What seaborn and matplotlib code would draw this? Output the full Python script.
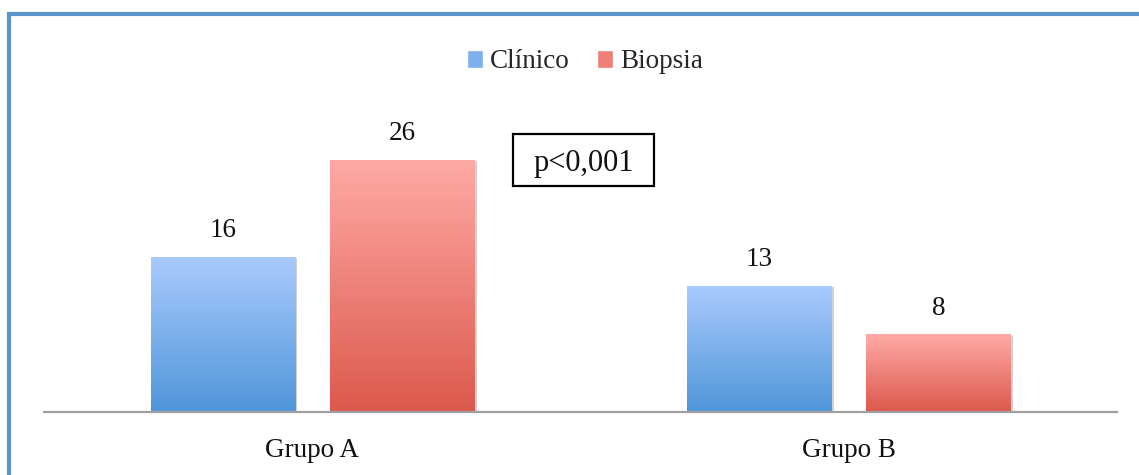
import numpy as np
import pandas as pd
import matplotlib
matplotlib.use("Agg")
import matplotlib.pyplot as plt
import matplotlib.patheffects as pe
from matplotlib.colors import LinearSegmentedColormap
from matplotlib.lines import Line2D
from matplotlib.patches import Rectangle
import seaborn as sns

# ---- data ----
grupos = ["Grupo A", "Grupo B"]
series = ["Clínico", "Biopsia"]
clinico = [16, 13]
biopsia = [26, 8]
p_text = "p<0,001"

df = pd.DataFrame({
    "grupo": grupos * 2,
    "tipo": [series[0]] * 2 + [series[1]] * 2,
    "valor": clinico + biopsia,
})

sns.set_theme(style="white")
plt.rcParams["font.family"] = ["Liberation Serif", "DejaVu Serif"]

W, H = 1139, 475
fig = plt.figure(figsize=(W / 100, H / 100), dpi=100)
ax = fig.add_axes([44 / W, (H - 412) / H, 1073 / W, 372 / H])

top_cols = {"Clínico": "#aacbfd", "Biopsia": "#ffaaa6"}
bot_cols = {"Clínico": "#5096da", "Biopsia": "#dc594c"}
mid_cols = ["#7eb0ee", "#ee7f77"]

sns.barplot(data=df, x="grupo", y="valor", hue="tipo", palette=mid_cols,
            width=0.668, gap=0.196, ax=ax, saturation=1, legend=True)

# gradient fills clipped to each bar
for cont, name in zip(ax.containers, series):
    cmap = LinearSegmentedColormap.from_list(name, [bot_cols[name], top_cols[name]])
    grad = np.linspace(0, 1, 256).reshape(-1, 1)
    for p in cont.patches:
        x0, y0 = p.get_x(), p.get_y()
        w, h = p.get_width(), p.get_height()
        p.set_edgecolor("none")
        p.set_path_effects([pe.SimplePatchShadow(offset=(2, -1), shadow_rgbFace="#000000", alpha=0.18),
                            pe.Normal()])
        im = ax.imshow(grad, cmap=cmap, origin="lower", aspect="auto",
                       extent=(x0, x0 + w, y0, y0 + h), zorder=p.get_zorder() + 0.1,
                       interpolation="bilinear")
        im.set_clip_path(p)
    ax.bar_label(cont, fontsize=19.5, padding=10, color="#111111")

ax.set_xlim(-0.5, 1.5)
ax.set_ylim(0, 372 / 9.7)

for s in ["top", "right", "left"]:
    ax.spines[s].set_visible(False)
ax.spines["bottom"].set_color("#a0a0a0")
ax.spines["bottom"].set_linewidth(1.6)
ax.set_yticks([])
ax.set_xlabel("")
ax.set_ylabel("")
ax.tick_params(axis="x", length=0, pad=19, labelsize=19.5, colors="#111111")

leg = ax.legend(loc="center", bbox_to_anchor=(585 / W, (H - 62) / H),
                bbox_transform=fig.transFigure, ncol=2, frameon=False,
                fontsize=19.5, handlelength=0.6, handleheight=0.6,
                handletextpad=0.25, columnspacing=1.0)

# p-value annotation box
fig.add_artist(Rectangle((513 / W, (H - 186) / H), (654 - 513) / W, (186 - 134) / H,
                         transform=fig.transFigure, fc="white", ec="black", lw=1.6, zorder=5))
fig.text(583.5 / W, (H - 163) / H, p_text, ha="center", va="center",
         fontsize=22, color="#111111", zorder=6)

# outer frame (left and top edges)
fig.add_artist(Line2D([9 / W, 9 / W], [0, (H - 12) / H], color="#5b95cb", lw=3,
                      transform=fig.transFigure, solid_capstyle="butt"))
fig.add_artist(Line2D([7 / W, 1], [(H - 13.5) / H, (H - 13.5) / H], color="#5b95cb", lw=3,
                      transform=fig.transFigure, solid_capstyle="butt"))

fig.savefig("out.png", dpi=100)
